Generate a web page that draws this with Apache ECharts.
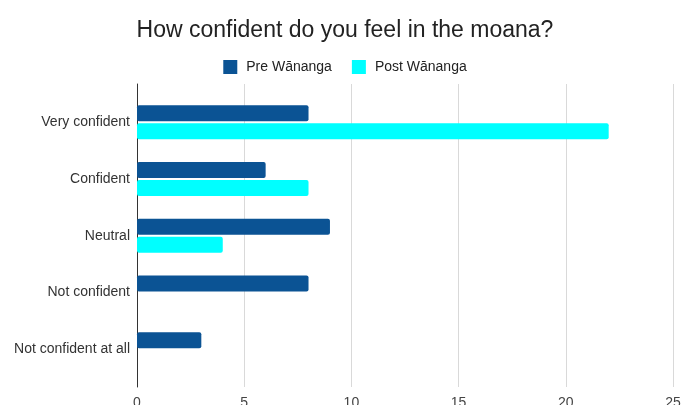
<!DOCTYPE html>
<html>
<head>
<meta charset="utf-8">
<script src="https://cdn.jsdelivr.net/npm/echarts@6/dist/echarts.min.js"></script>
<style>
html,body{margin:0;padding:0;background:#fff;}
#chart{width:690px;height:405px;}
</style>
</head>
<body>
<div id="chart"></div>
<script>
const categories = ["Very confident", "Confident", "Neutral", "Not confident", "Not confident at all"];
const preWananga = [8, 6, 9, 8, 3];
const postWananga = [22, 8, 4, 0, 0];
const xTicks = [0, 5, 10, 15, 20, 25];

const chart = echarts.init(document.getElementById('chart'), null, {renderer: 'canvas'});
const FONT = '"Liberation Sans", Arial, sans-serif';
chart.setOption({
  animation: false,
  backgroundColor: '#fff',
  title: {
    text: 'How confident do you feel in the moana?',
    left: 'center',
    top: 14,
    textStyle: {fontFamily: FONT, fontSize: 23, fontWeight: 'normal', color: '#222'}
  },
  legend: {
    top: 55,
    left: 'center',
    itemWidth: 14,
    itemHeight: 14,
    itemGap: 20,
    icon: 'rect',
    textStyle: {fontFamily: FONT, fontSize: 14, color: '#222', padding: [0, 0, 0, 4]},
    data: ['Pre Wānanga', 'Post Wānanga']
  },
  grid: [
    {left: 137, right: 17, top: 94, bottom: 27.5, containLabel: false, outerBoundsMode: 'none'},
    {left: 137, right: 17, top: 84, bottom: 18, containLabel: false, outerBoundsMode: 'none'}
  ],
  xAxis: [
    {gridIndex: 0, type: 'value', min: xTicks[0], max: xTicks[xTicks.length - 1], interval: 5, show: false},
    {gridIndex: 1, type: 'value', min: xTicks[0], max: xTicks[xTicks.length - 1], interval: 5,
     axisLine: {show: false}, axisTick: {show: false},
     axisLabel: {fontFamily: FONT, fontSize: 14, color: '#444', margin: 9},
     splitLine: {show: true, lineStyle: {color: '#d9d9d9', width: 1}}}
  ],
  yAxis: [
    {gridIndex: 0, type: 'category', data: categories, inverse: true,
     axisLine: {show: false}, axisTick: {show: false},
     axisLabel: {fontFamily: FONT, fontSize: 14, color: '#333', margin: 7}},
    {gridIndex: 1, type: 'value', min: 0, max: 1,
     axisLine: {show: true, lineStyle: {color: '#333', width: 1}},
     axisTick: {show: false}, axisLabel: {show: false}, splitLine: {show: false}}
  ],
  series: [
    {name: 'Pre Wānanga', type: 'bar', xAxisIndex: 0, yAxisIndex: 0, data: preWananga,
     barWidth: 16, barGap: '12.5%', itemStyle: {color: '#0b5394', borderRadius: 2}},
    {name: 'Post Wānanga', type: 'bar', xAxisIndex: 0, yAxisIndex: 0, data: postWananga,
     barWidth: 16, barGap: '12.5%', itemStyle: {color: '#00ffff', borderRadius: 2}}
  ]
});
</script>
</body>
</html>
